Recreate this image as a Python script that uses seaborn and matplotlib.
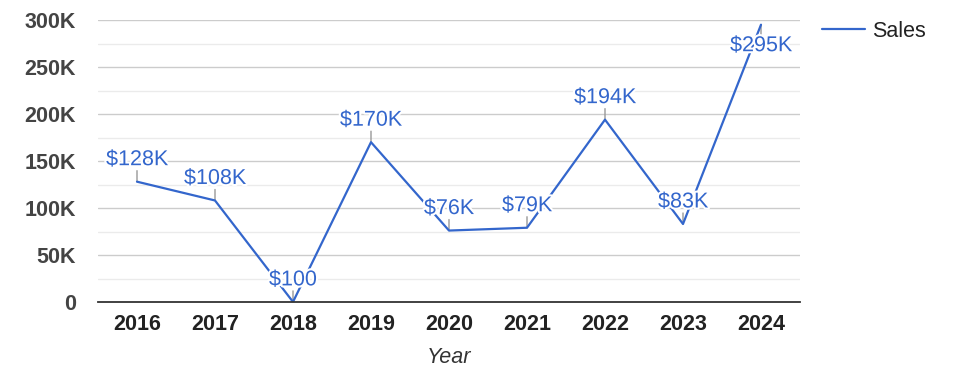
import matplotlib.pyplot as plt
import matplotlib.patheffects as pe
import seaborn as sns
import pandas as pd

years = [2016, 2017, 2018, 2019, 2020, 2021, 2022, 2023, 2024]
sales = [128000, 108000, 100, 170000, 76000, 79000, 194000, 83000, 295000]
value_labels = ["$128K", "$108K", "$100", "$170K", "$76K", "$79K", "$194K", "$83K", "$295K"]
y_ticks = [0, 50000, 100000, 150000, 200000, 250000, 300000]
y_tick_labels = ["0", "50K", "100K", "150K", "200K", "250K", "300K"]

df = pd.DataFrame({"Year": years, "Sales": sales})

sns.set_style("white")
plt.rcParams["font.family"] = ["Liberation Sans", "DejaVu Sans"]

blue = "#3366cc"
fs = 15.5

fig = plt.figure(figsize=(9.75, 3.78), dpi=100)
ax = fig.add_axes([98 / 975, 1 - 302 / 378, 702 / 975, 282 / 378])

# gridlines: major every 50K, minor every 25K
for v in range(0, 300001, 25000):
    if v == 0:
        continue
    major = v % 50000 == 0
    ax.axhline(v, color="#cccccc" if major else "#ebebeb", lw=1, zorder=0)

sns.lineplot(data=df, x="Year", y="Sales", color=blue, lw=1.6, label="Sales", ax=ax, zorder=3)

ax.set_xlim(2015.5, 2024.5)
ax.set_ylim(0, 300000)
ax.set_yticks(y_ticks)
ax.set_yticklabels(y_tick_labels, fontsize=fs, fontweight="bold", color="#444444")
ax.set_xticks(years)
ax.set_xticklabels([str(y) for y in years], fontsize=fs, fontweight="bold", color="#222222")
ax.tick_params(axis="both", length=0)
ax.tick_params(axis="y", pad=16)
ax.tick_params(axis="x", pad=9)
ax.set_xlabel("Year", fontsize=fs, style="italic", color="#333333", labelpad=8)
ax.set_ylabel("")

for side in ["top", "right", "left"]:
    ax.spines[side].set_visible(False)
ax.spines["bottom"].set_color("#333333")
ax.spines["bottom"].set_linewidth(1.3)
ax.spines["bottom"].set_zorder(4)

halo = [pe.withStroke(linewidth=3, foreground="white")]
for x, y, lab in zip(years, sales, value_labels):
    below = y > 280000
    d = -1 if below else 1
    ax.annotate("", xy=(x, y), xytext=(0, 11 * d), textcoords="offset pixels",
                arrowprops=dict(arrowstyle="-", color="#999999", lw=1, shrinkA=0, shrinkB=0),
                zorder=2, annotation_clip=False)
    ax.annotate(lab, xy=(x, y), xytext=(0, (21 if below else 22) * d), textcoords="offset pixels",
                ha="center", va="center", fontsize=fs, color=blue, path_effects=halo,
                zorder=5, annotation_clip=False)

ax.legend(loc="upper left", bbox_to_anchor=(822 / 975, 1 - 21 / 378), bbox_transform=fig.transFigure,
          frameon=False, fontsize=fs, handlelength=2.0, handletextpad=0.33,
          borderpad=0, borderaxespad=0, labelcolor="#222222")

fig.savefig("out.png", dpi=100)
